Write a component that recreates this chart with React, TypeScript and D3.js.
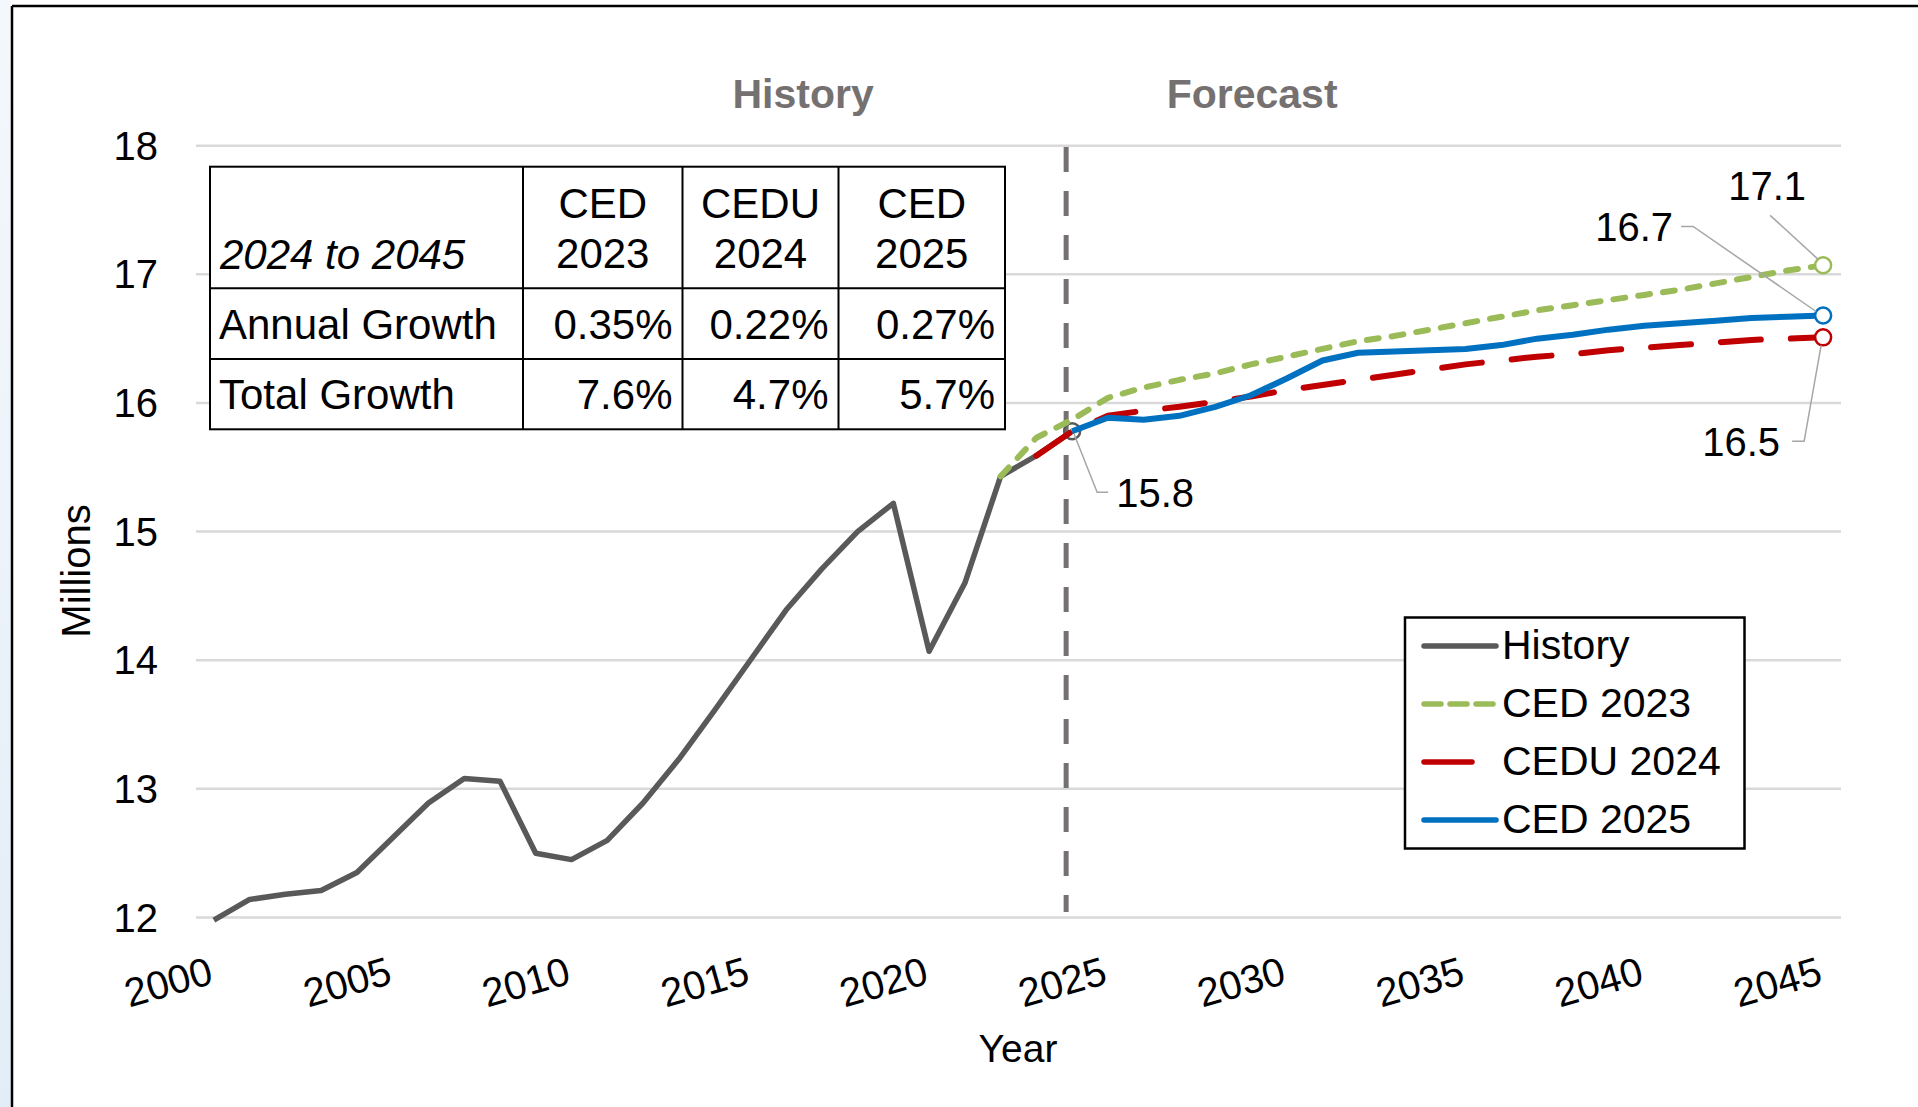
import React from 'react';
import * as d3 from 'd3';

// categories
const firstYear = 2000;
const lastYear = 2045;
const years = d3.range(firstYear, lastYear + 1);
const yTicks = [12, 13, 14, 15, 16, 17, 18];
const xTicks = [2000, 2005, 2010, 2015, 2020, 2025, 2030, 2035, 2040, 2045];

// History, 2000 to 2024 (millions)
const historyStart = 2000;
const history = [
  11.98, 12.14, 12.18, 12.21, 12.35, 12.62, 12.89, 13.08, 13.06, 12.5,
  12.45, 12.6, 12.89, 13.23, 13.61, 14.0, 14.39, 14.71, 15.0, 15.22,
  14.07, 14.6, 15.43, 15.59, 15.78,
];

// CED 2023, 2022 to 2045
const ced2023Start = 2022;
const ced2023 = [
  15.43, 15.73, 15.87, 16.04, 16.12, 16.18, 16.23, 16.3, 16.36, 16.42, 16.48, 16.52,
  16.57, 16.62, 16.67, 16.72, 16.76, 16.8, 16.84, 16.88, 16.93, 16.98, 17.03, 17.07,
];

// CEDU 2024, 2023 to 2045
const cedu2024Start = 2023;
const cedu2024 = [
  15.59, 15.78, 15.9, 15.94, 15.97, 16.01, 16.05, 16.1, 16.14, 16.18, 16.22, 16.26,
  16.3, 16.33, 16.36, 16.38, 16.41, 16.43, 16.45, 16.47, 16.49, 16.5, 16.51,
];

// CED 2025, 2024 to 2045
const ced2025Start = 2024;
const ced2025 = [
  15.78, 15.885, 15.87, 15.9, 15.97, 16.06, 16.19, 16.33, 16.39, 16.4, 16.41,
  16.42, 16.45, 16.5, 16.53, 16.57, 16.6, 16.62, 16.64, 16.66, 16.67, 16.68,
];

// growth table
const tableHeaders = [['CED', '2023'], ['CEDU', '2024'], ['CED', '2025']];
const annualGrowth = ['0.35%', '0.22%', '0.27%'];
const totalGrowth = ['7.6%', '4.7%', '5.7%'];

const FONT = '"Liberation Sans", Arial, Helvetica, sans-serif';

type Pt = { year: number; value: number };
const toPoints = (start: number, vals: number[]): Pt[] =>
  vals.map((v, i) => ({ year: start + i, value: v }));

const App: React.FC = () => {
  const width = 1918;
  const height = 1107;

  const x = d3.scalePoint<number>().domain(years).range([196, 1841]).padding(0.5);
  const y = d3.scaleLinear().domain([12, 18]).range([917.5, 145.7]);

  const line = d3
    .line<Pt>()
    .x((d) => x(d.year) as number)
    .y((d) => y(d.value));

  const hist = toPoints(historyStart, history);
  const s2023 = toPoints(ced2023Start, ced2023);
  const s2024 = toPoints(cedu2024Start, cedu2024);
  const s2025 = toPoints(ced2025Start, ced2025);

  const lastHist = hist[hist.length - 1];
  const mHist = { x: x(lastHist.year) as number, y: y(lastHist.value) };
  const end = (s: Pt[]) => {
    const p = s[s.length - 1];
    return { x: x(p.year) as number, y: y(p.value), v: p.value };
  };
  const e2023 = end(s2023);
  const e2024 = end(s2024);
  const e2025 = end(s2025);

  const dashX = (x(lastHist.year) as number) - 6;

  // table geometry
  const colX = [210, 523, 682.5, 838.5, 1005];
  const rowY = [166.7, 288.3, 359, 429.3];

  const legendItems = [
    { label: 'History', color: '#595959', dash: 'none', len: 72 },
    { label: 'CED 2023', color: '#9bbb59', dash: '17 9', len: 70 },
    { label: 'CEDU 2024', color: '#c00000', dash: 'none', len: 48 },
    { label: 'CED 2025', color: '#0070c0', dash: 'none', len: 72 },
  ];

  return (
    <div style={{ position: 'absolute', left: 0, top: 0, width, height, background: '#fff' }}>
      <svg width={width} height={height} style={{ display: 'block', fontFamily: FONT }}>
        <defs>
          <linearGradient id="edge" x1="0" y1="0" x2="0" y2="1">
            <stop offset="0" stopColor="#f4f8fc" />
            <stop offset="1" stopColor="#e3edf7" />
          </linearGradient>
        </defs>
        <rect x={0} y={0} width={width} height={height} fill="#fff" />
        <rect x={0} y={0} width={11} height={height} fill="url(#edge)" />
        <line x1={12} y1={6} x2={width} y2={6} stroke="#000" strokeWidth={2.5} />
        <line x1={12} y1={6} x2={12} y2={height} stroke="#000" strokeWidth={2.5} />

        {/* gridlines */}
        {yTicks.map((t) => (
          <line key={t} x1={196} x2={1841} y1={y(t)} y2={y(t)} stroke="#d9d9d9" strokeWidth={2.5} />
        ))}

        {/* y tick labels */}
        {yTicks.map((t) => (
          <text key={t} x={158} y={y(t) + 14} fontSize={40} textAnchor="end" fill="#000">
            {t}
          </text>
        ))}

        {/* x tick labels */}
        {xTicks.map((t) => {
          const px = (x(t) as number) + 1;
          const py = 983;
          return (
            <text
              key={t}
              x={px}
              y={py}
              fontSize={40}
              textAnchor="end"
              fill="#000"
              transform={`rotate(-16 ${px} ${py})`}
            >
              {t}
            </text>
          );
        })}

        <text transform="translate(90,571) rotate(-90)" fontSize={40} textAnchor="middle" fill="#000">
          Millions
        </text>
        <text x={1018} y={1062} fontSize={39} textAnchor="middle" fill="#000">
          Year
        </text>

        {/* section titles */}
        <text x={dashX - 263} y={107.7} fontSize={41} fontWeight="bold" textAnchor="middle" fill="#767171">
          History
        </text>
        <text x={dashX + 186} y={107.7} fontSize={41} fontWeight="bold" textAnchor="middle" fill="#767171">
          Forecast
        </text>

        {/* history / forecast divider */}
        <line x1={dashX} x2={dashX} y1={147} y2={912} stroke="#767171" strokeWidth={5} strokeDasharray="25 19" />

        {/* series */}
        <path d={line(hist) ?? ''} fill="none" stroke="#595959" strokeWidth={5.5} strokeLinejoin="round" />
        <circle cx={mHist.x} cy={mHist.y} r={8} fill="none" stroke="#595959" strokeWidth={2.5} />
        <path
          d={line(s2023) ?? ''}
          fill="none"
          stroke="#9bbb59"
          strokeWidth={6}
          strokeDasharray="12 13"
          strokeLinecap="round"
          strokeLinejoin="round"
        />
        <path
          d={line(s2024) ?? ''}
          fill="none"
          stroke="#c00000"
          strokeWidth={6}
          strokeDasharray="40 30"
          strokeLinecap="round"
          strokeLinejoin="round"
        />
        <path d={line(s2025) ?? ''} fill="none" stroke="#0070c0" strokeWidth={6} strokeLinejoin="round" />

        {/* end markers */}
        <circle cx={e2023.x} cy={e2023.y} r={8} fill="#fff" stroke="#9bbb59" strokeWidth={2.5} />
        <circle cx={e2024.x} cy={e2024.y} r={8} fill="#fff" stroke="#c00000" strokeWidth={2.5} />
        <circle cx={e2025.x} cy={e2025.y} r={8} fill="#fff" stroke="#0070c0" strokeWidth={2.5} />

        {/* data labels with leader lines */}
        <g fill="none" stroke="#a6a6a6" strokeWidth={1.5}>
          <polyline points={`${mHist.x + 2},${mHist.y + 3} ${mHist.x + 25},${mHist.y + 61} ${mHist.x + 36},${mHist.y + 61}`} />
          <polyline points={`${e2023.x - 53},${e2023.y - 50} ${e2023.x - 5},${e2023.y - 6}`} />
          <polyline
            points={`${e2025.x - 142},${e2025.y - 89} ${e2025.x - 130},${e2025.y - 89} ${e2025.x - 7},${e2025.y - 4}`}
          />
          <polyline
            points={`${e2024.x - 31},${e2024.y + 104} ${e2024.x - 19},${e2024.y + 104} ${e2024.x - 2},${e2024.y + 8}`}
          />
        </g>
        <g fontSize={40} fill="#000">
          <text x={mHist.x + 44} y={mHist.y + 76}>
            {lastHist.value.toFixed(1)}
          </text>
          <text x={e2023.x - 17} y={e2023.y - 65} textAnchor="end">
            {e2023.v.toFixed(1)}
          </text>
          <text x={e2025.x - 150} y={e2025.y - 74} textAnchor="end">
            {e2025.v.toFixed(1)}
          </text>
          <text x={e2024.x - 43} y={e2024.y + 119} textAnchor="end">
            {e2024.v.toFixed(1)}
          </text>
        </g>

        {/* growth table */}
        <g>
          <rect
            x={colX[0]}
            y={rowY[0]}
            width={colX[4] - colX[0]}
            height={rowY[3] - rowY[0]}
            fill="#fff"
            stroke="#000"
            strokeWidth={2}
          />
          {colX.slice(1, 4).map((cx) => (
            <line key={cx} x1={cx} x2={cx} y1={rowY[0]} y2={rowY[3]} stroke="#000" strokeWidth={2} />
          ))}
          {rowY.slice(1, 3).map((ry) => (
            <line key={ry} x1={colX[0]} x2={colX[4]} y1={ry} y2={ry} stroke="#000" strokeWidth={2} />
          ))}
          <g fontSize={42} fill="#000">
            <text x={colX[0] + 10} y={269.3} fontStyle="italic">
              2024 to 2045
            </text>
            {tableHeaders.map((h, i) => (
              <text key={i} x={(colX[i + 1] + colX[i + 2]) / 2} textAnchor="middle">
                <tspan x={(colX[i + 1] + colX[i + 2]) / 2} y={218.3}>
                  {h[0]}
                </tspan>
                <tspan x={(colX[i + 1] + colX[i + 2]) / 2} y={268.3}>
                  {h[1]}
                </tspan>
              </text>
            ))}
            <text x={colX[0] + 9} y={339}>
              Annual Growth
            </text>
            <text x={colX[0] + 9} y={409.3}>
              Total Growth
            </text>
            {annualGrowth.map((v, i) => (
              <text key={v} x={colX[i + 2] - 10} y={339} textAnchor="end">
                {v}
              </text>
            ))}
            {totalGrowth.map((v, i) => (
              <text key={v} x={colX[i + 2] - 10} y={409.3} textAnchor="end">
                {v}
              </text>
            ))}
          </g>
        </g>

        {/* legend */}
        <g>
          <rect x={1405} y={617.5} width={339.5} height={231} fill="#fff" stroke="#000" strokeWidth={2.5} />
          {legendItems.map((it, i) => {
            const ly = 646 + i * 58;
            return (
              <g key={it.label}>
                <line
                  x1={1424}
                  x2={1424 + it.len}
                  y1={ly}
                  y2={ly}
                  stroke={it.color}
                  strokeWidth={5.5}
                  strokeLinecap="round"
                  strokeDasharray={it.dash}
                />
                <text x={1502} y={ly + 13} fontSize={41} fill="#000">
                  {it.label}
                </text>
              </g>
            );
          })}
        </g>
      </svg>
    </div>
  );
};

export default App;
